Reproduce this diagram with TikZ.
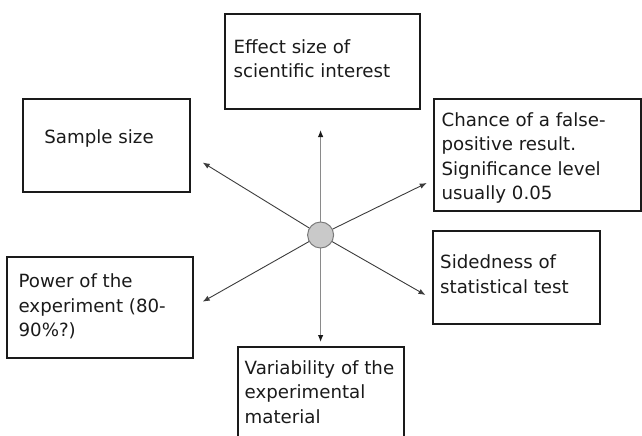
\documentclass[tikz,border=0pt]{standalone}
\usepackage{fontspec}
\setmainfont{DejaVu Sans}
\usetikzlibrary{arrows.meta}
\definecolor{ink}{HTML}{1A1A1A}
\definecolor{hub}{HTML}{C9C9C9}
\definecolor{hubline}{HTML}{7A7A7A}
\definecolor{vline}{HTML}{8A8A8A}
\tikzset{
  box/.style={draw=ink, line width=1.1pt, rectangle, inner sep=0pt},
  txt/.style={anchor=base west, inner sep=0pt, text=ink,
    font=\fontsize{18.2}{24.5}\selectfont},
  arr/.style={draw=ink!85, line width=0.9pt, -{Latex[length=7pt,width=5.5pt]}},
  varr/.style={draw=vline, line width=1.1pt, -{Latex[length=7pt,width=5.5pt,color=ink]}},
}
\newcommand{\lines}[1]{\begin{tabular}[t]{@{}l@{}}#1\end{tabular}}
\begin{document}
\begin{tikzpicture}[x=1pt,y=-1pt]
\useasboundingbox (0,0) rectangle (642,436);
% boxes
\node[box, minimum width=195pt, minimum height=95pt] (effect) at (322.5,61.5) {};
\node[box, minimum width=167pt, minimum height=93pt] (sample) at (106.5,145.5) {};
\node[box, minimum width=207pt, minimum height=112pt] (chance) at (537.5,155) {};
\node[box, minimum width=167pt, minimum height=93pt] (side) at (516.5,277.5) {};
\node[box, minimum width=186pt, minimum height=101pt] (power) at (100,307.5) {};
\node[box, minimum width=166pt, minimum height=110pt] (var) at (321,402) {};
% texts
\node[txt] (effectT) at (233.4,53) {\lines{Effect size of\\scientific interest}};
\node[txt] (sampleT) at (44.2,143) {Sample size};
\node[txt] (chanceT) at (441.4,126) {\lines{Chance of a false-\\positive result.\\Significance level\\usually 0.05}};
\node[txt] (sideT) at (440,268.7) {\lines{Sidedness of\\statistical test}};
\node[txt] (powerT) at (18.4,287.5) {\lines{Power of the\\experiment (80-\\90\%?)}};
\node[txt] (varT) at (244.5,374) {\lines{Variability of the\\experimental\\material}};
% hub and arrows
\coordinate (tU) at (320.6,130);
\coordinate (tD) at (320.6,342);
\coordinate (tUL) at (202.7,162.5);
\coordinate (tUR) at (426.7,183);
\coordinate (tLL) at (202.7,301.7);
\coordinate (tLR) at (425.5,295);
\node[circle, minimum size=26pt, inner sep=0pt] (hubN) at (320.6,235) {};
\draw[varr] (hubN) -- (tU);
\draw[varr] (hubN) -- (tD);
\draw[arr] (hubN) -- (tUL);
\draw[arr] (hubN) -- (tUR);
\draw[arr] (hubN) -- (tLL);
\draw[arr] (hubN) -- (tLR);
\node[circle, fill=hub, draw=hubline, line width=1pt, minimum size=26pt, inner sep=0pt] at (hubN) {};
\end{tikzpicture}
\end{document}
